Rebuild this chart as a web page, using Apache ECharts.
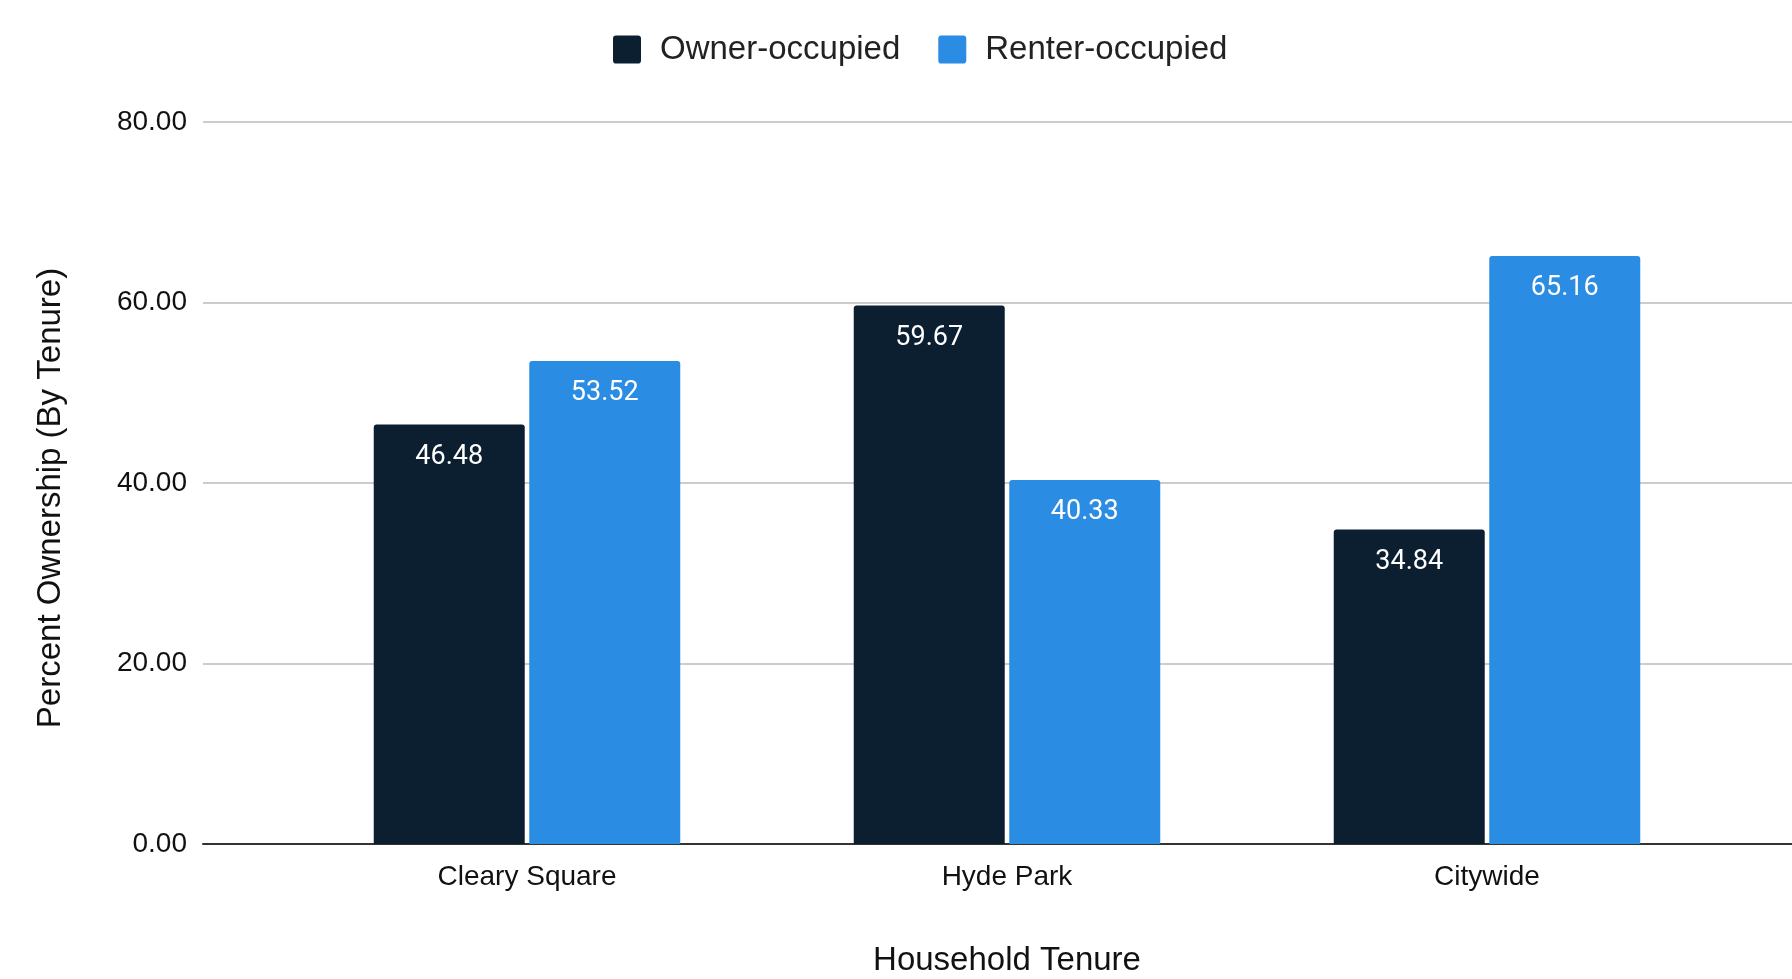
<!DOCTYPE html>
<html>
<head>
<meta charset="utf-8">
<script src="https://cdn.jsdelivr.net/npm/echarts@6/dist/echarts.min.js"></script>
<style>html,body{margin:0;padding:0;background:#fff}#c{width:1792px;height:979px}</style>
</head>
<body>
<div id="c"></div>
<script>
const categories = ['Cleary Square', 'Hyde Park', 'Citywide'];
const ownerValues = [46.48, 59.67, 34.84];
const renterValues = [53.52, 40.33, 65.16];
const seriesNames = ['Owner-occupied', 'Renter-occupied'];
const yTicks = [0, 20, 40, 60, 80];
const xTitle = 'Household Tenure';
const yTitle = 'Percent Ownership (By Tenure)';

const FONT = '"Liberation Sans", Arial, sans-serif';
const chart = echarts.init(document.getElementById('c'), null, {renderer: 'canvas'});
const topPx = 122, bottomPx = 135;
const barLabel = {
  show: true, position: 'insideTop', distance: 19, color: '#fff',
  fontFamily: 'Roboto', fontSize: 27, formatter: p => p.value.toFixed(2)
};
const squareIcon = 'path://M3,0 H24 Q27,0 27,3 V24 Q27,27 24,27 H3 Q0,27 0,24 V3 Q0,0 3,0 Z';
chart.setOption({
  animation: false,
  legend: {
    data: seriesNames, left: 608, top: 28, itemWidth: 28, itemHeight: 28, itemGap: 38,
    icon: squareIcon,
    textStyle: {fontFamily: FONT, fontSize: 33, color: '#222', padding: [0, 0, 0, 14]}
  },
  grid: [
    {left: 203, right: 0, top: topPx, bottom: bottomPx, containLabel: false, outerBoundsMode: 'none'},
    {left: 287, right: 65, top: topPx, bottom: bottomPx, containLabel: false, outerBoundsMode: 'none'}
  ],
  xAxis: [
    {gridIndex: 0, type: 'category', data: categories, axisLabel: {show: false},
     axisTick: {show: false}, axisLine: {show: true, lineStyle: {color: '#333', width: 2}}},
    {gridIndex: 1, type: 'category', data: categories, axisTick: {show: false},
     axisLine: {show: false},
     axisLabel: {fontFamily: FONT, fontSize: 28, color: '#111', margin: 19},
     name: xTitle, nameLocation: 'middle', nameGap: 100,
     nameTextStyle: {fontFamily: FONT, fontSize: 33, color: '#111'}}
  ],
  yAxis: [
    {gridIndex: 0, type: 'value', min: yTicks[0], max: yTicks[yTicks.length - 1], interval: 20,
     axisLine: {show: false}, axisTick: {show: false},
     axisLabel: {fontFamily: FONT, fontSize: 28, color: '#111', margin: 16, formatter: v => v.toFixed(2)},
     splitLine: {lineStyle: {color: '#cccccc', width: 2}}},
    {gridIndex: 1, type: 'value', min: yTicks[0], max: yTicks[yTicks.length - 1], interval: 20, show: false,
     splitLine: {show: false}}
  ],
  graphic: [{
    type: 'text', x: 51, y: 498, rotation: Math.PI / 2,
    style: {text: yTitle, fontFamily: FONT, fontSize: 33, fill: '#111', align: 'center', verticalAlign: 'middle'}
  }],
  series: [
    {name: seriesNames[0], type: 'bar', xAxisIndex: 1, yAxisIndex: 1, data: ownerValues,
     barWidth: 151, barGap: '3%', itemStyle: {color: '#0b1f30', borderRadius: [3, 3, 0, 0]}, label: barLabel},
    {name: seriesNames[1], type: 'bar', xAxisIndex: 1, yAxisIndex: 1, data: renterValues,
     barWidth: 151, barGap: '3%', itemStyle: {color: '#2a8ce3', borderRadius: [3, 3, 0, 0]}, label: barLabel}
  ]
});
</script>
</body>
</html>
